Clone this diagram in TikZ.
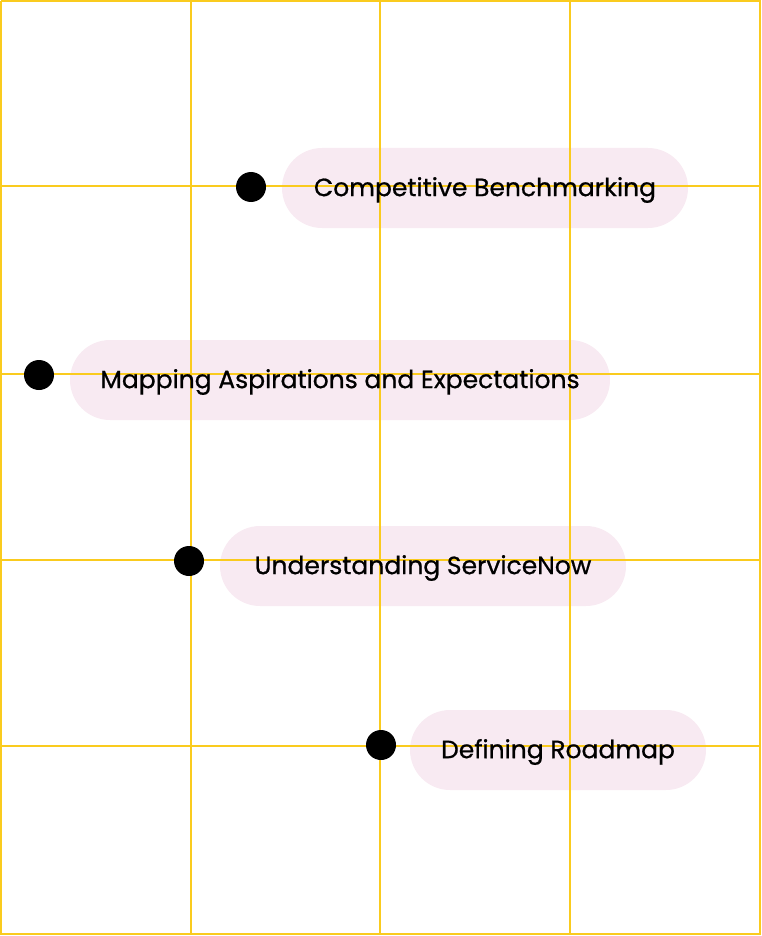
\documentclass[tikz,border=0pt]{standalone}
\usepackage{fontspec}
\setmainfont{Poppins}[BoldFont=Poppins,BoldFeatures={FakeBold=0.7}]
\usepackage{tikz}
\definecolor{gridyellow}{HTML}{FACB1E}
\definecolor{pillpink}{HTML}{F8EAF2}
\tikzstyle{dot}=[circle,fill=black,minimum size=30pt,inner sep=0pt]
\tikzstyle{pill}=[rectangle,fill=pillpink,rounded corners=40pt,minimum height=80pt,inner sep=0pt]
\tikzstyle{lbl}=[font=\fontsize{25}{28}\selectfont\bfseries,text=black,inner sep=0pt,yshift=-2pt]
\tikzstyle{gridline}=[draw=gridyellow,line width=1.1pt]

\begin{document}
\begin{tikzpicture}[x=1pt,y=-1pt]
      \useasboundingbox (0,0) rectangle (762,936);
      % pills first, grid runs over them
      \node[pill,minimum width=406pt] (P1) at (485,188) {};
      \node[pill,minimum width=540pt] (P2) at (340,380) {};
      \node[pill,minimum width=406pt] (P3) at (423,566) {};
      \node[pill,minimum width=296pt] (P4) at (558,750) {};
      \foreach \x in {1,191,380,570,760}
        \draw[gridline] (\x,1) -- (\x,935);
      \foreach \y in {1,186,374,560,746,934}
        \draw[gridline] (1,\y) -- (761,\y);
      \node[dot] (D1) at (251,187) {};
      \node[dot] (D2) at (39,375) {};
      \node[dot] (D3) at (189,561) {};
      \node[dot] (D4) at (381,745) {};
      \node[lbl] (L1) at (P1) {Competitive Benchmarking};
      \node[lbl] (L2) at (P2) {Mapping Aspirations and Expectations};
      \node[lbl] (L3) at (P3) {Understanding ServiceNow};
      \node[lbl] (L4) at (P4) {Defining Roadmap};
  \end{tikzpicture}
\end{document}
